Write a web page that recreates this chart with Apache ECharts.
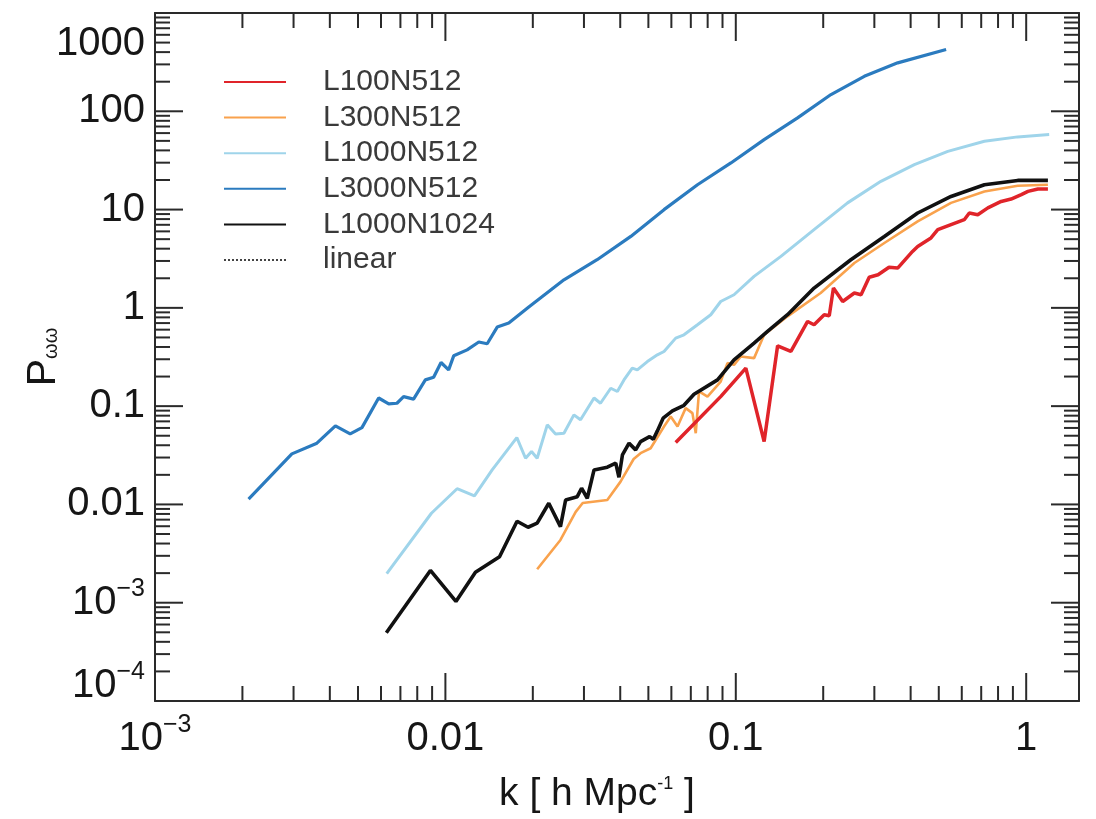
<!DOCTYPE html>
<html>
<head>
<meta charset="utf-8">
<script src="https://cdn.jsdelivr.net/npm/echarts@6/dist/echarts.min.js"></script>
<style>
  html, body { margin: 0; padding: 0; background: #fff; }
  #chart { width: 1096px; height: 819px; }
</style>
</head>
<body>
<div id="chart"></div>
<script>
// Velocity power spectrum P_ωω(k) for the simulation boxes, as [k, P] pairs.
const l100n512 = [
  [0.0621, 0.0426], [0.0887, 0.125], [0.1083, 0.244], [0.1252, 0.0436], [0.1393, 0.411],
  [0.1548, 0.36], [0.1767, 0.727], [0.186, 0.673], [0.2016, 0.851], [0.2098, 0.831],
  [0.2169, 1.59], [0.2334, 1.16], [0.256, 1.415], [0.27, 1.36], [0.288, 2.05],
  [0.309, 2.17], [0.337, 2.59], [0.361, 2.54], [0.406, 3.75], [0.423, 4.22],
  [0.47, 5.14], [0.496, 6.24], [0.551, 7.02], [0.612, 7.89], [0.637, 9.23],
  [0.681, 8.87], [0.738, 10.4], [0.82, 12.1], [0.887, 12.8], [0.962, 14.2],
  [1.014, 15.3], [1.097, 16.2], [1.188, 16.2]
];
const l300n512 = [
  [0.0207, 0.00219], [0.0249, 0.00435], [0.0281, 0.0084], [0.0297, 0.01035], [0.0361, 0.0111],
  [0.0401, 0.01706], [0.0445, 0.029], [0.047, 0.0332], [0.0509, 0.0373], [0.0566, 0.062],
  [0.0597, 0.0783], [0.063, 0.062], [0.0672, 0.0955], [0.0709, 0.0849], [0.0728, 0.0531],
  [0.0747, 0.141], [0.0799, 0.125], [0.0887, 0.178], [0.0936, 0.274], [0.0986, 0.263],
  [0.104, 0.32], [0.1156, 0.308], [0.1252, 0.532], [0.1507, 0.82], [0.196, 1.415],
  [0.256, 2.86], [0.3247, 4.57], [0.423, 7.59], [0.551, 11.7], [0.718, 15.3],
  [0.935, 17.5], [1.188, 17.9]
];
const l1000n512 = [
  [0.00628, 0.00198], [0.00895, 0.00813], [0.01097, 0.01445], [0.01259, 0.01222], [0.01449, 0.02245],
  [0.01762, 0.0479], [0.01888, 0.0295], [0.0198, 0.0345], [0.0207, 0.0295], [0.02243, 0.0645],
  [0.02395, 0.0522], [0.0256, 0.0531], [0.0277, 0.0815], [0.0292, 0.0726], [0.0325, 0.121],
  [0.0342, 0.107], [0.0371, 0.152], [0.0391, 0.141], [0.0412, 0.185], [0.044, 0.244],
  [0.0458, 0.234], [0.0496, 0.284], [0.0537, 0.333], [0.0566, 0.36], [0.0621, 0.492],
  [0.0663, 0.532], [0.0738, 0.673], [0.082, 0.851], [0.0887, 1.16], [0.0986, 1.36],
  [0.1156, 2.09], [0.143, 3.34], [0.186, 6.24], [0.2426, 11.7], [0.316, 19.4],
  [0.412, 28.7], [0.537, 39.1], [0.718, 49.5], [0.935, 54.9], [1.2, 57.9]
];
const l3000n512 = [
  [0.0021, 0.0113], [0.00296, 0.0327], [0.00361, 0.042], [0.00418, 0.063], [0.0047, 0.0522],
  [0.00516, 0.0605], [0.00589, 0.121], [0.00638, 0.1055], [0.00681, 0.107], [0.00718, 0.125],
  [0.00777, 0.118], [0.00853, 0.185], [0.00911, 0.197], [0.00966, 0.278], [0.01026, 0.234],
  [0.01068, 0.325], [0.01188, 0.374], [0.01303, 0.449], [0.01393, 0.431], [0.01508, 0.637],
  [0.01653, 0.70], [0.01937, 1.02], [0.0256, 1.93], [0.0333, 3.09], [0.0435, 5.33],
  [0.0566, 9.98], [0.0738, 17.9], [0.0962, 29.8], [0.1252, 51.5], [0.1632, 85.7],
  [0.2127, 148], [0.277, 227], [0.361, 311], [0.53, 425]
];
const l1000n1024 = [
  [0.00626, 0.000495], [0.00888, 0.00213], [0.01087, 0.00103], [0.01269, 0.00204], [0.01536, 0.00294],
  [0.01765, 0.00675], [0.01926, 0.00586], [0.0207, 0.00644], [0.0227, 0.01028], [0.0249, 0.00594],
  [0.02594, 0.0111], [0.02845, 0.012], [0.02944, 0.01462], [0.0308, 0.01156], [0.0325, 0.02245],
  [0.0361, 0.0239], [0.0386, 0.0263], [0.0396, 0.0189], [0.0407, 0.0319], [0.0429, 0.042],
  [0.0452, 0.0359], [0.047, 0.0436], [0.0505, 0.049], [0.052, 0.046], [0.0537, 0.056],
  [0.0562, 0.0755], [0.0605, 0.0895], [0.0663, 0.102], [0.0718, 0.132], [0.0865, 0.185],
  [0.0986, 0.296], [0.1156, 0.438], [0.1286, 0.575], [0.1507, 0.851], [0.186, 1.59],
  [0.249, 3.09], [0.3247, 5.33], [0.423, 9.23], [0.551, 13.6], [0.718, 17.9],
  [0.935, 19.8], [1.188, 19.8]
];
const linearTheory = [];

const seriesNames = ['L100N512', 'L300N512', 'L1000N512', 'L3000N512', 'L1000N1024', 'linear'];

// Axis ranges and decade labels
const xRange = [0.001, 1.52];
const yRange = [0.0001, 1000];
const xTickLabels = { '-3': '10^-3', '-2': '0.01', '-1': '0.1', '0': '1' };
const yTickLabels = { '-4': '10^-4', '-3': '10^-3', '-2': '0.01', '-1': '0.1', '0': '1', '1': '10', '2': '100', '3': '1000' };
const minorMultipliers = [2, 3, 4, 5, 6, 7, 8, 9];

const FONT = '"Liberation Sans", Arial, Helvetica, sans-serif';
const AXIS_COLOR = '#2a2a2a';
const TEXT_COLOR = '#161616';
const MAJOR_LEN = 28;
const MINOR_LEN = 15;

function decadeOf(v) {
  const l = Math.log10(v);
  const n = Math.round(l);
  return Math.abs(l - n) < 1e-6 ? n : null;
}

function majorTicks(labels) {
  return Object.keys(labels).map(function (d) { return Math.pow(10, Number(d)); });
}

function minorTicks(range) {
  const out = [];
  const d0 = Math.floor(Math.log10(range[0]));
  const d1 = Math.ceil(Math.log10(range[1]));
  for (let d = d0; d < d1; d++) {
    minorMultipliers.forEach(function (m) {
      const v = m * Math.pow(10, d);
      if (v > range[0] && v < range[1]) out.push(v);
    });
  }
  return out;
}

function powerLabel(text, styles) {
  // styles: [baseStyle, supStyle, plainStyle]
  if (text.indexOf('10^') === 0) {
    const exp = text.slice(3).replace('-', '\u2212');
    return '{' + styles[0] + '|10}{' + styles[1] + '|' + exp + '}';
  }
  return '{' + styles[2] + '|' + text + '}';
}

const labelBase = { fontSize: 40, fontFamily: FONT, color: TEXT_COLOR };
const supBase = { fontSize: 25, fontFamily: FONT, color: TEXT_COLOR };

const chart = echarts.init(document.getElementById('chart'), null, { renderer: 'canvas' });

function frameAxis(pos, range, extra) {
  return Object.assign({
    type: 'log',
    logBase: 10,
    position: pos,
    min: range[0],
    max: range[1],
    nameMoveOverlap: false,
    axisLine: { show: true, onZero: false, lineStyle: { color: AXIS_COLOR, width: 2 } },
    axisTick: { show: false },
    axisLabel: { show: false },
    splitLine: { show: false },
    minorTick: { show: false },
    minorSplitLine: { show: false }
  }, extra || {});
}

function lineSeries(name, data, color, width, z) {
  return {
    name: name,
    type: 'line',
    data: data,
    xAxisIndex: 0,
    yAxisIndex: 0,
    symbol: 'none',
    showSymbol: false,
    smooth: false,
    z: z,
    itemStyle: { color: color },
    lineStyle: { color: color, width: width },
    emphasis: { disabled: true }
  };
}

// Inward ticks on all four sides of the frame, placed through the log scales.
function tickSeries(which, values, len) {
  const data = which === 'x'
    ? values.map(function (v) { return [v, yRange[0]]; })
    : values.map(function (v) { return [xRange[0], v]; });
  return {
    type: 'custom',
    xAxisIndex: 0,
    yAxisIndex: 0,
    silent: true,
    clip: false,
    z: 10,
    data: data,
    renderItem: function (params, api) {
      const cs = params.coordSys;
      const p = api.coord([api.value(0), api.value(1)]);
      const style = { stroke: AXIS_COLOR, lineWidth: 2 };
      if (which === 'x') {
        const b = cs.y + cs.height;
        return {
          type: 'group',
          children: [
            { type: 'line', shape: { x1: p[0], y1: b, x2: p[0], y2: b - len }, style: style },
            { type: 'line', shape: { x1: p[0], y1: cs.y, x2: p[0], y2: cs.y + len }, style: style }
          ]
        };
      }
      const r = cs.x + cs.width;
      return {
        type: 'group',
        children: [
          { type: 'line', shape: { x1: cs.x, y1: p[1], x2: cs.x + len, y2: p[1] }, style: style },
          { type: 'line', shape: { x1: r, y1: p[1], x2: r - len, y2: p[1] }, style: style }
        ]
      };
    }
  };
}

const option = {
  backgroundColor: '#ffffff',
  animation: false,
  textStyle: { fontFamily: FONT },
  grid: {
    left: 155, right: 17, top: 13, bottom: 118,
    containLabel: false,
    outerBoundsMode: 'none'
  },
  legend: {
    orient: 'vertical',
    left: 223,
    top: 67,
    padding: 0,
    itemWidth: 62,
    itemHeight: 14,
    itemGap: 5.6,
    selectedMode: false,
    itemStyle: { opacity: 0 },
    textStyle: {
      fontSize: 30, lineHeight: 30, color: '#3a3a3a', fontFamily: FONT,
      padding: [0, 0, 0, 32]
    },
    data: seriesNames
  },
  xAxis: [
    frameAxis('bottom', xRange, {
      name: 'k [ h Mpc{sup|-1} ]',
      nameLocation: 'middle',
      nameGap: 74,
      nameTextStyle: {
        fontSize: 39, fontFamily: FONT, color: TEXT_COLOR,
        padding: [0, 40, 0, 0],
        rich: { sup: { fontSize: 18, fontFamily: FONT, color: TEXT_COLOR, padding: [0, 0, 20, 0] } }
      },
      axisLabel: {
        show: true,
        margin: 8,
        showMaxLabel: false,
        formatter: function (v) {
          const d = decadeOf(v);
          if (d === null || xTickLabels[String(d)] === undefined) return '';
          return powerLabel(xTickLabels[String(d)], ['b', 'sup', 'b']);
        },
        rich: {
          b: Object.assign({ lineHeight: 60 }, labelBase),
          sup: Object.assign({ lineHeight: 60, padding: [0, 0, 27, 0] }, supBase)
        }
      }
    }),
    frameAxis('top', xRange)
  ],
  yAxis: [
    frameAxis('left', yRange, {
      name: 'P{sub|ωω}',
      nameLocation: 'middle',
      nameRotate: 90,
      nameGap: 91,
      nameTextStyle: {
        fontSize: 41, fontFamily: FONT, color: TEXT_COLOR,
        rich: { sub: { fontSize: 20, fontFamily: FONT, color: TEXT_COLOR, padding: [16, 0, 0, 0] } }
      },
      axisLabel: {
        show: true,
        margin: 10,
        formatter: function (v) {
          const d = decadeOf(v);
          if (d === null || yTickLabels[String(d)] === undefined) return '';
          const t = yTickLabels[String(d)];
          if (d === 3) return '{top|' + t + '}';
          if (d === -4) return powerLabel(t, ['lowb', 'lowsup', 'lowb']);
          return powerLabel(t, ['b', 'sup', 'b']);
        },
        rich: {
          b: Object.assign({ lineHeight: 50 }, labelBase),
          sup: Object.assign({ lineHeight: 50, padding: [0, 0, 27, 0] }, supBase),
          top: Object.assign({ lineHeight: 50, padding: [62, 0, 0, 0] }, labelBase),
          lowb: Object.assign({ lineHeight: 50, padding: [0, 0, 30, 0] }, labelBase),
          lowsup: Object.assign({ lineHeight: 50, padding: [0, 0, 57, 0] }, supBase)
        }
      }
    }),
    frameAxis('right', yRange)
  ],
  series: [
    lineSeries('L100N512', l100n512, '#e0242a', 3.5, 6),
    lineSeries('L300N512', l300n512, '#f9a24d', 2.6, 4),
    lineSeries('L1000N512', l1000n512, '#9fd4ea', 3, 3),
    lineSeries('L3000N512', l3000n512, '#2b7bbf', 3.2, 3),
    lineSeries('L1000N1024', l1000n1024, '#111111', 3.6, 5),
    Object.assign(lineSeries('linear', linearTheory, '#444444', 1.5, 2), {
      lineStyle: { color: '#444444', width: 1.5, type: [2, 2] }
    }),
    tickSeries('x', minorTicks(xRange), MINOR_LEN),
    tickSeries('y', minorTicks(yRange), MINOR_LEN),
    tickSeries('x', majorTicks(xTickLabels), MAJOR_LEN),
    tickSeries('y', majorTicks(yTickLabels), MAJOR_LEN)
  ]
};

chart.setOption(option);
</script>
</body>
</html>
